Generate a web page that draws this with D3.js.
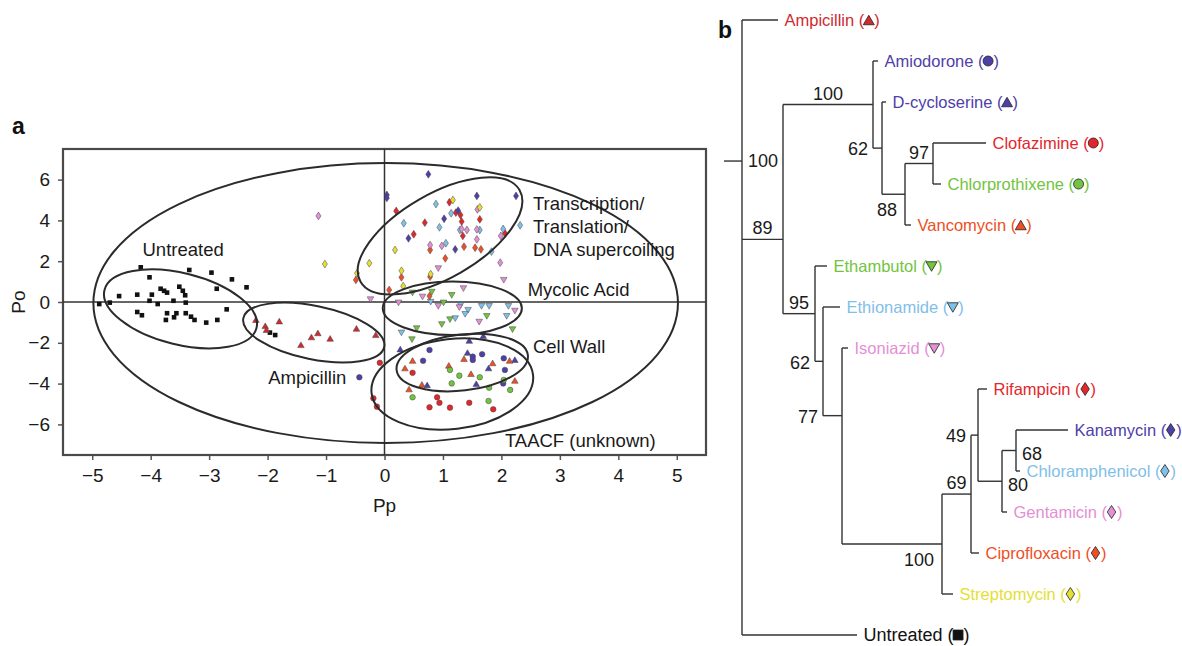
<!DOCTYPE html>
<html>
<head>
<meta charset="utf-8">
<script src="https://cdn.jsdelivr.net/npm/d3@7"></script>
<style>
  body { margin: 0; background: #fff; }
  svg { font-family: "Liberation Sans", Arial, Helvetica, sans-serif; }
</style>
</head>
<body>
<svg id="fig" width="1182" height="646"></svg>
<script>
// ---------- panel a: scores (Pp, Po) ----------
const ptsUntreated = [[-4.88,-0.10],[-4.70,-0.03],[-4.54,0.29],[-4.23,0.36],[-4.17,1.70],[-4.02,1.21],
  [-3.98,0.36],[-4.02,0.06],[-3.88,-0.10],[-3.83,0.65],[-3.77,0.55],[-3.72,0.46],[-3.61,0.06],[-3.51,0.75],
  [-3.45,0.55],[-3.41,0.33],[-3.40,-0.03],[-3.34,1.57],[-4.23,-0.49],[-4.15,-0.65],[-3.72,-0.55],[-3.74,-0.88],
  [-3.60,-0.75],[-3.56,-0.55],[-3.40,-0.55],[-3.31,-0.72],[-3.25,-0.88],[-3.05,-1.01],[-2.86,-0.88],[-2.96,1.44],
  [-2.87,0.65],[-2.61,1.11],[-2.70,-0.36],[-2.36,0.72],[-1.96,-1.50],[-1.87,-1.62]];
const ptsAmpicillin = [[-2.20,-0.88],[-2.04,-1.18],[-2.02,-1.37],[-1.80,-0.95],[-1.43,-2.11],[-1.25,-1.73],
  [-1.14,-1.53],[-0.93,-1.80],[-0.48,-1.31],[-0.15,-1.62]];
const ptsAmiodorone = [[-0.43,-3.69],[0.77,-2.35],[1.51,-2.68],[1.51,-2.84],[1.67,-2.56],[0.66,-2.88],
  [2.04,-2.76],[2.06,-3.33],[2.03,-3.99]];
const ptsDcycloserine = [[1.45,-1.90],[1.69,-1.67],[0.27,-2.32],[1.42,-2.49],[1.78,-3.25],[2.23,-2.84],
  [1.57,-4.02],[0.73,-4.08]];
const ptsVancomycin = [[1.36,-2.79],[0.48,-2.88],[1.10,-3.12],[1.85,-3.00],[2.14,-2.88],[0.35,-3.25],
  [1.48,-3.53],[0.64,-4.05],[2.23,-3.86],[0.42,-4.28]];
const ptsClofazimine = [[-0.08,-2.98],[-0.19,-4.72],[-0.13,-5.13],[0.48,-3.47],[0.90,-4.67],[0.94,-4.94],
  [0.77,-5.16],[1.12,-5.18],[1.45,-4.94],[1.86,-5.26]];
const ptsChlorprothixene = [[1.12,-3.33],[1.28,-3.61],[1.63,-3.69],[1.15,-3.99],[2.04,-3.82],[1.79,-4.20],
  [2.15,-4.31],[0.48,-4.67],[1.78,-4.85]];
const ptsEthambutol = [[0.48,0.46],[0.81,0.50],[1.15,0.34],[1.01,-0.03],[1.75,-0.69],[2.19,-1.34],
  [0.98,-1.09],[1.12,-0.85],[0.55,-1.29],[0.47,-1.83]];
const ptsEthionamide = [[0.79,0.01],[1.30,-0.15],[1.43,-0.39],[1.38,-0.59],[1.66,-0.20],[1.79,-0.20],
  [2.12,-0.20],[2.09,-0.69],[1.21,-0.80],[0.29,-1.50]];
const ptsIsoniazid = [[-0.24,0.13],[0.24,-0.03],[0.65,0.26],[1.35,0.67],[0.92,-0.20],[1.28,-0.26],
  [1.62,-0.97],[2.23,-0.43],[0.92,1.65],[2.04,1.08]];
const ptsRifampicin = [[1.11,4.89],[0.20,4.46],[1.22,4.38],[1.30,4.26],[1.63,4.05],[0.69,3.89],
  [1.32,3.94],[2.06,3.37],[0.50,3.32],[1.34,3.24]];
const ptsCiprofloxacin = [[0.78,2.55],[1.36,2.71],[1.55,2.66],[1.65,2.58],[1.04,2.14],[0.29,1.21],
  [0.78,1.24],[-0.49,1.08],[0.08,0.59],[0.77,0.29]];
const ptsKanamycin = [[0.75,6.26],[0.04,5.25],[0.04,5.10],[1.58,5.20],[2.25,5.20],[1.26,4.48],
  [1.02,4.08],[0.41,3.12],[1.21,2.58]];
const ptsChloramphenicol = [[0.88,4.80],[1.14,4.35],[0.33,3.86],[0.94,3.66],[1.29,3.53],[1.63,3.53],
  [2.03,3.58],[2.32,3.76],[1.05,2.88],[1.83,2.47]];
const ptsGentamicin = [[1.59,4.54],[1.32,3.58],[1.41,3.53],[1.58,3.56],[1.99,3.24],[1.58,3.07],
  [0.78,2.79],[0.98,2.75],[1.98,1.93],[-1.13,4.22]];
const ptsStreptomycin = [[1.17,5.00],[1.63,4.64],[0.18,2.55],[-0.26,1.90],[0.29,1.53],[0.79,1.37],
  [-0.47,1.41],[0.32,0.78],[-1.02,1.86]];

const xTicks = [-5, -4, -3, -2, -1, 0, 1, 2, 3, 4, 5];
const yTicks = [-6, -4, -2, 0, 2, 4, 6];

// group ellipses: centre (Pp, Po), half axes in Pp / Po units, tilt in degrees
const ellipseCx   = [0.02, -3.49, -1.21, 0.95, 1.16, 1.33, 1.16];
const ellipseCy   = [-0.05, -0.34, -1.50, 3.24, -0.31, -2.97, -4.02];
const ellipseRx   = [5.00, 1.34, 1.23, 1.57, 1.19, 1.13, 1.39];
const ellipseRy   = [6.86, 1.75, 1.31, 2.06, 1.31, 1.37, 2.21];
const ellipseTilt = [0, 14, 11.6, -30, 0, -6.5, -6.5];

const groupLabels = ["Untreated", "Ampicillin", "Transcription/", "Translation/", "DNA supercoiling",
  "Mycolic Acid", "Cell Wall", "TAACF (unknown)"];
const groupLabelPp = [-4.14, -1.99, 2.54, 2.54, 2.54, 2.45, 2.54, 2.06];
const groupLabelPo = [2.25, -4.0, 4.51, 3.38, 2.25, 0.31, -2.49, -7.09];

// ---------- panel b: tree (branch lengths, bootstrap values) ----------
const treeData = {name: "root", len: 0.18, at: 3.44, boot: "100", place: "rootRight", children: [
  {name: "Ampicillin", len: 0.36},
  {name: "n89", len: 0.41, at: 5.35, boot: "89", place: "above", children: [
    {name: "n100a", len: 0.90, boot: "100", place: "above", children: [
      {name: "Amiodorone", len: 0.05},
      {name: "n62a", len: 0.09, boot: "62", place: "left", children: [
        {name: "D-cycloserine", len: 0.04},
        {name: "n88", len: 0.23, boot: "88", place: "belowLeft", children: [
          {name: "n97", len: 0.28, boot: "97", place: "above", children: [
            {name: "Clofazimine", len: 0.53},
            {name: "Chlorprothixene", len: 0.08}
          ]},
          {name: "Vancomycin", len: 0.06}
        ]}
      ]}
    ]},
    {name: "n95", len: 0.32, boot: "95", place: "above", children: [
      {name: "Ethambutol", len: 0.12},
      {name: "n62b", len: 0.08, boot: "62", place: "left", children: [
        {name: "Ethionamide", len: 0.17},
        {name: "n77", len: 0.19, at: 9.65, boot: "77", place: "left", children: [
          {name: "Isoniazid", len: 0.06},
          {name: "n100b", len: 1.00, boot: "100", place: "belowLeft", children: [
            {name: "n69", len: 0.29, boot: "69", place: "above", children: [
              {name: "n49", len: 0.07, boot: "49", place: "left", children: [
                {name: "Rifampicin", len: 0.09},
                {name: "n80", len: 0.24, boot: "80", place: "right", children: [
                  {name: "n68", len: 0.14, boot: "68", place: "right", children: [
                    {name: "Kanamycin", len: 0.52},
                    {name: "Chloramphenicol", len: 0.04}
                  ]},
                  {name: "Gentamicin", len: 0.05}
                ]}
              ]},
              {name: "Ciprofloxacin", len: 0.08}
            ]},
            {name: "Streptomycin", len: 0.11}
          ]}
        ]}
      ]}
    ]}
  ]},
  {name: "Untreated", len: 1.15}
]};

// marker shape + colour per treatment
const drugShape = {Ampicillin: "up", Amiodorone: "circle", "D-cycloserine": "up", Clofazimine: "circle",
  Chlorprothixene: "circle", Vancomycin: "up", Ethambutol: "down", Ethionamide: "down", Isoniazid: "down",
  Rifampicin: "diamond", Kanamycin: "diamond", Chloramphenicol: "diamond", Gentamicin: "diamond",
  Ciprofloxacin: "diamond", Streptomycin: "diamond", Untreated: "square"};
const drugColor = {Ampicillin: "#cf2a30", Amiodorone: "#4e40a8", "D-cycloserine": "#4e40a8",
  Clofazimine: "#e3262b", Chlorprothixene: "#72c440", Vancomycin: "#ee4f26", Ethambutol: "#72c440",
  Ethionamide: "#7fc0e8", Isoniazid: "#e490d4", Rifampicin: "#e3262b", Kanamycin: "#4e40a8",
  Chloramphenicol: "#7fc0e8", Gentamicin: "#e490d4", Ciprofloxacin: "#ee4f26", Streptomycin: "#e4e033",
  Untreated: "#111"};

const scatterSeries = [
  ["Untreated", ptsUntreated], ["Ampicillin", ptsAmpicillin], ["Amiodorone", ptsAmiodorone],
  ["D-cycloserine", ptsDcycloserine], ["Vancomycin", ptsVancomycin], ["Clofazimine", ptsClofazimine],
  ["Chlorprothixene", ptsChlorprothixene], ["Ethambutol", ptsEthambutol], ["Ethionamide", ptsEthionamide],
  ["Isoniazid", ptsIsoniazid], ["Rifampicin", ptsRifampicin], ["Ciprofloxacin", ptsCiprofloxacin],
  ["Kanamycin", ptsKanamycin], ["Chloramphenicol", ptsChloramphenicol], ["Gentamicin", ptsGentamicin],
  ["Streptomycin", ptsStreptomycin]
];

function shapePath(shape, r) {
  switch (shape) {
    case "circle": return `M${r},0A${r},${r} 0 1,1 ${-r},0A${r},${r} 0 1,1 ${r},0Z`;
    case "square": return `M${-r},${-r}H${r}V${r}H${-r}Z`;
    case "up": return `M0,${-r * 1.05}L${r * 1.1},${r * 0.85}L${-r * 1.1},${r * 0.85}Z`;
    case "down": return `M0,${r * 1.05}L${r * 1.1},${-r * 0.85}L${-r * 1.1},${-r * 0.85}Z`;
    case "diamond": return `M0,${-r * 1.3}L${r * 0.85},0L0,${r * 1.3}L${-r * 0.85},0Z`;
  }
}

const svg = d3.select("#fig");
const FONT = "Liberation Sans, Arial, Helvetica, sans-serif";

// ================= panel a =================
const x = d3.scaleLinear().domain([-5.5, 5.5]).range([63, 706]);
const y = d3.scaleLinear().domain([-7.5, 7.5]).range([455, 149]);

// axes
const xAxis = svg.append("g")
  .attr("transform", `translate(0,${y(-7.5)})`)
  .call(d3.axisBottom(x).tickValues(xTicks).tickSize(5).tickPadding(9).tickFormat(d3.format("d")));
const yAxis = svg.append("g")
  .attr("transform", `translate(${x(-5.5)},0)`)
  .call(d3.axisLeft(y).tickValues(yTicks).tickSize(5).tickPadding(8).tickFormat(d3.format("d")));
[xAxis, yAxis].forEach(g => {
  g.attr("font-family", FONT).attr("font-size", 19);
  g.select(".domain").remove();
  g.selectAll(".tick line").attr("stroke", "#555").attr("stroke-width", 1.5);
  g.selectAll(".tick text").attr("fill", "#1a1a1a");
});

// frame + zero lines
svg.append("rect")
  .attr("x", x(-5.5)).attr("y", y(7.5))
  .attr("width", x(5.5) - x(-5.5)).attr("height", y(-7.5) - y(7.5))
  .attr("fill", "none").attr("stroke", "#4a4a4a").attr("stroke-width", 2.2);
svg.append("line").attr("x1", x(-5.5)).attr("x2", x(5.5)).attr("y1", y(0)).attr("y2", y(0))
  .attr("stroke", "#333").attr("stroke-width", 1.5);
svg.append("line").attr("x1", x(0)).attr("x2", x(0)).attr("y1", y(7.5)).attr("y2", y(-7.5))
  .attr("stroke", "#333").attr("stroke-width", 1.5);

// points
const dots = svg.append("g");
scatterSeries.forEach(([name, pts]) => {
  const shape = drugShape[name];
  const r = shape === "circle" ? 2.8 : shape === "square" ? 2.3 : 3.0;
  dots.selectAll(null)
    .data(pts)
    .join("path")
    .attr("d", shapePath(shape, r))
    .attr("transform", d => `translate(${x(d[0])},${y(d[1])})`)
    .attr("fill", drugColor[name])
    .attr("stroke", name === "Untreated" ? "none" : "#444")
    .attr("stroke-width", 0.5);
});

// ellipses
svg.append("g")
  .selectAll("ellipse")
  .data(ellipseCx.map((c, i) => i))
  .join("ellipse")
  .attr("transform", i => `translate(${x(ellipseCx[i])},${y(ellipseCy[i])}) rotate(${ellipseTilt[i]})`)
  .attr("rx", i => x(ellipseRx[i]) - x(0))
  .attr("ry", i => y(0) - y(ellipseRy[i]))
  .attr("fill", "none")
  .attr("stroke", "#2b2b2b")
  .attr("stroke-width", 2);

// group labels
svg.append("g")
  .selectAll("text")
  .data(groupLabels)
  .join("text")
  .attr("x", (d, i) => x(groupLabelPp[i]))
  .attr("y", (d, i) => y(groupLabelPo[i]))
  .attr("font-size", 18.5)
  .attr("fill", "#1a1a1a")
  .text(d => d);

// axis titles + panel letter
svg.append("text").attr("x", x(0)).attr("y", y(-7.5) + 57)
  .attr("text-anchor", "middle").attr("font-size", 19).attr("fill", "#1a1a1a").text("Pp");
svg.append("text").attr("transform", `translate(25,${y(0)}) rotate(-90)`)
  .attr("text-anchor", "middle").attr("font-size", 19).attr("fill", "#1a1a1a").text("Po");
svg.append("text").attr("x", 12).attr("y", 134)
  .attr("font-size", 23).attr("font-weight", "bold").attr("fill", "#111").text("a");

// ================= panel b =================
const root = d3.hierarchy(treeData);
const leaves = root.leaves();
const xTree = d3.scaleLinear().domain([0, 1]).range([724, 824]);
const yTree = d3.scaleLinear().domain([0, leaves.length - 1]).range([20, 635]);

root.eachBefore(d => { d.dist = (d.parent ? d.parent.dist : 0) + d.data.len; });
leaves.forEach((d, i) => { d.y = yTree(i); });
root.eachAfter(d => {
  if (!d.children) return;
  if (d.data.at !== undefined) d.y = yTree(d.data.at);
  else d.y = (d.children[0].y + d.children[d.children.length - 1].y) / 2;
});

const treeG = svg.append("g").attr("stroke", "#333").attr("stroke-width", 1.4).attr("fill", "none");
root.each(d => {
  const x0 = xTree(d.parent ? d.parent.dist : 0);
  treeG.append("line").attr("x1", x0).attr("x2", xTree(d.dist)).attr("y1", d.y).attr("y2", d.y);
  if (d.children) {
    treeG.append("line").attr("x1", xTree(d.dist)).attr("x2", xTree(d.dist))
      .attr("y1", d.children[0].y).attr("y2", d.children[d.children.length - 1].y);
  }
});

// bootstrap values
root.descendants().filter(d => d.data.boot).forEach(d => {
  const xp = xTree(d.parent ? d.parent.dist : 0), xn = xTree(d.dist);
  const t = svg.append("text").attr("font-size", 18).attr("fill", "#1a1a1a").text(d.data.boot);
  switch (d.data.place) {
    case "rootRight": t.attr("x", xn + 6).attr("y", d.y).attr("dy", "0.35em"); break;
    case "above": t.attr("x", (xp + xn) / 2).attr("y", d.y - 5).attr("text-anchor", "middle"); break;
    case "left": t.attr("x", xp - 5).attr("y", d.y + 1).attr("dy", "0.35em").attr("text-anchor", "end"); break;
    case "belowLeft": t.attr("x", xn - 8).attr("y", d.y + 22).attr("text-anchor", "end"); break;
    case "right": t.attr("x", xn + 6).attr("y", d.y + 3).attr("dy", "0.35em"); break;
  }
});

// leaf labels with their markers
leaves.forEach(d => {
  const name = d.data.name, col = drugColor[name];
  const big = name === "Untreated";
  const g = svg.append("g").attr("transform", `translate(${xTree(d.dist) + 6.5},${d.y})`)
    .attr("font-size", big ? 18 : 16.5).attr("fill", col);
  const t = g.append("text").attr("dy", "0.35em").text(name + " (");
  const w = t.node().getComputedTextLength();
  g.append("path")
    .attr("d", shapePath(drugShape[name], big ? 5 : 5))
    .attr("transform", `translate(${w + 4.5},${drugShape[name] === "up" ? 0.5 : 0})`)
    .attr("fill", col).attr("stroke", "#222").attr("stroke-width", 0.8);
  g.append("text").attr("x", w + 10).attr("dy", "0.35em").text(")");
});

svg.append("text").attr("x", 718).attr("y", 38)
  .attr("font-size", 23).attr("font-weight", "bold").attr("fill", "#111").text("b");
</script>
</body>
</html>
